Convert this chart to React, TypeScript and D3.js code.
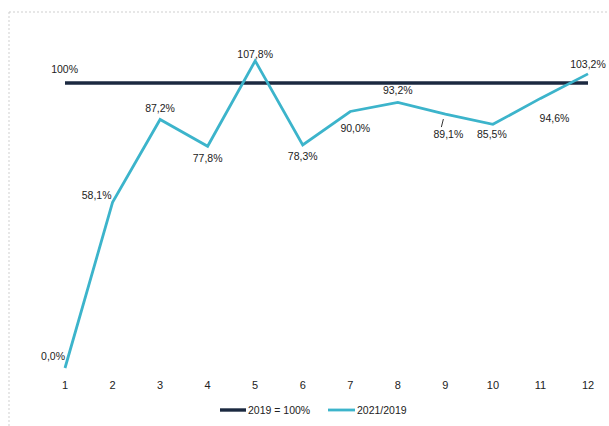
import React from "react";
import * as d3 from "d3";

const months = [1, 2, 3, 4, 5, 6, 7, 8, 9, 10, 11, 12];
const baseline = [100, 100, 100, 100, 100, 100, 100, 100, 100, 100, 100, 100];
const ratio = [0.0, 58.1, 87.2, 77.8, 107.8, 78.3, 90.0, 93.2, 89.1, 85.5, 94.6, 103.2];
const ratioLabels = ["0,0%", "58,1%", "87,2%", "77,8%", "107,8%", "78,3%", "90,0%", "93,2%", "89,1%", "85,5%", "94,6%", "103,2%"];
const seriesNames = ["2019 = 100%", "2021/2019"];

// label placement (dx, dy, anchor) relative to each point
const labelPlacement: [number, number, string][] = [
  [0, -8, "end"],
  [-1, -3, "end"],
  [0, -7, "middle"],
  [0, 16, "middle"],
  [0, -3, "middle"],
  [0, 15, "middle"],
  [5, 20, "middle"],
  [0, -8, "middle"],
  [3, 24, "middle"],
  [-1, 14, "middle"],
  [14, 24, "middle"],
  [0, -6, "middle"],
];

const W = 609;
const H = 426;
const DARK = "#1b2940";
const LIGHT = "#3cb4cb";
const FONT = "'Liberation Sans', Arial, sans-serif";

export default function App() {
  const x = d3.scaleLinear().domain([1, 12]).range([65, 588]);
  const y = d3.scaleLinear().domain([0, 100]).range([368, 83]);
  const line = d3
    .line<number>()
    .x((_, i) => x(months[i]))
    .y((d) => y(d));

  return (
    <svg
      width={W}
      height={H}
      style={{ position: "absolute", left: 0, top: 0, background: "#fff" }}
      fontFamily={FONT}
    >
      <rect x={9} y={12} width={W} height={H} fill="none" stroke="#cfcfcf" strokeDasharray="2,2" strokeWidth={1} />
      <path d={line(baseline) || ""} fill="none" stroke={DARK} strokeWidth={3.4} />
      <path d={line(ratio) || ""} fill="none" stroke={LIGHT} strokeWidth={2.8} strokeLinejoin="miter" />
      <text x={x(1) + 13} y={y(100) - 10} fontSize={10.5} fill="#222" textAnchor="end">100%</text>
      {ratio.map((v, i) => {
        const [dx, dy, anchor] = labelPlacement[i];
        return (
          <text
            key={i}
            x={x(months[i]) + dx}
            y={y(v) + dy}
            fontSize={10.5}
            fill="#222"
            textAnchor={anchor}
          >
            {ratioLabels[i]}
          </text>
        );
      })}
      <line x1={x(9) - 2} y1={y(89.1) + 5} x2={x(9) - 4} y2={y(89.1) + 13} stroke="#333" strokeWidth={1} />
      {months.map((m) => (
        <text key={m} x={x(m)} y={389} fontSize={11} fill="#222" textAnchor="middle">
          {m}
        </text>
      ))}
      <g>
        <line x1={220} x2={246} y1={410} y2={410} stroke={DARK} strokeWidth={3.4} />
        <text x={248} y={414} fontSize={10.5} fill="#222">{seriesNames[0]}</text>
        <line x1={328} x2={355} y1={410} y2={410} stroke={LIGHT} strokeWidth={2.8} />
        <text x={357} y={414} fontSize={10.5} fill="#222">{seriesNames[1]}</text>
      </g>
    </svg>
  );
}
